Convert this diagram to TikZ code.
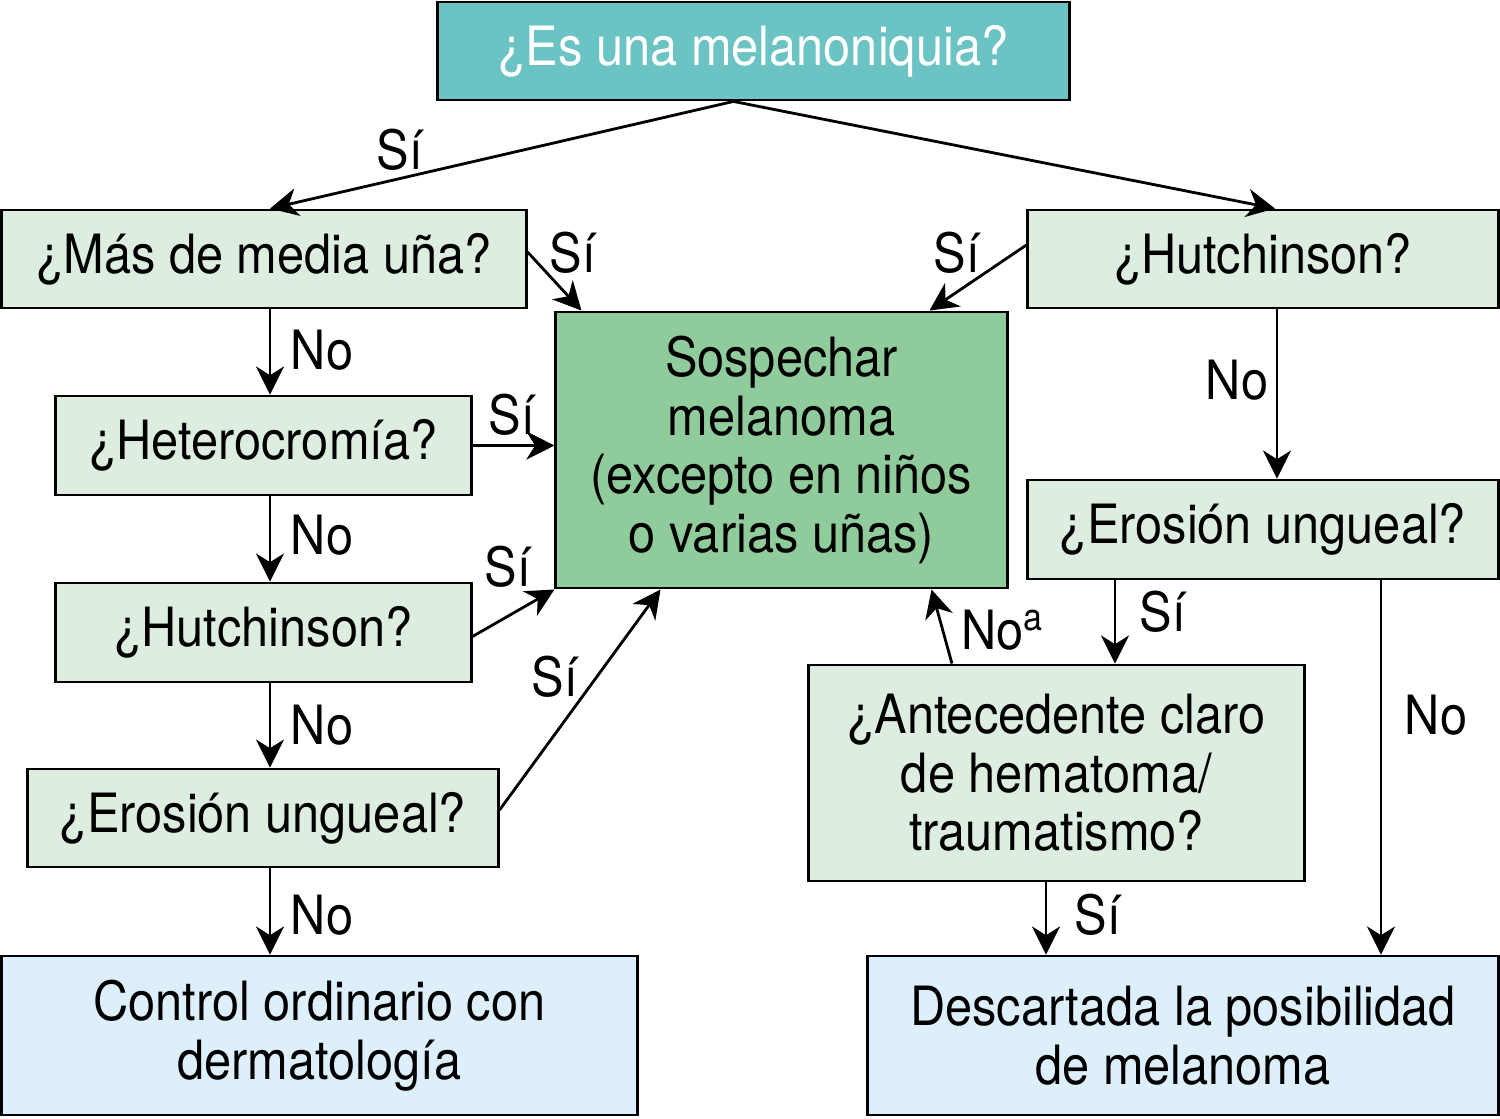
\documentclass[tikz,border=0pt]{standalone}
\usepackage{fontspec}
\setmainfont{TeX Gyre Heros}[FakeStretch=0.9]
\usetikzlibrary{arrows.meta,calc}
\definecolor{teal}{HTML}{6CC3C4}
\definecolor{lgreen}{HTML}{DDEEE0}
\definecolor{mgreen}{HTML}{8FCB9B}
\definecolor{lblue}{HTML}{DCEFFB}
\begin{document}
\begin{tikzpicture}[x=0.01cm,y=-0.01cm,
  every node/.style={font=\fontsize{15.4}{16.6}\selectfont},
  box/.style={draw=black,line width=0.8pt,align=center,inner sep=0pt},
  q/.style={box,fill=lgreen},
  res/.style={box,fill=lblue},
  lab/.style={inner sep=0pt},
  arr/.style={line width=0.8pt,-{Stealth[length=8pt,width=8pt,inset=2.5pt]}}]
\useasboundingbox (0,0) rectangle (1500,1118);
\node[box,fill=teal,text=white,minimum width=6.31cm,minimum height=0.98cm] (top) at (753.5,51) {¿Es una melanoniquia?};
\node[q,minimum width=5.24cm,minimum height=0.98cm] (mas) at (264,259) {¿Más de media uña?};
\node[q,minimum width=4.70cm,minimum height=0.98cm] (hutR) at (1263,259) {¿Hutchinson?};
\node[box,fill=mgreen,minimum width=4.51cm,minimum height=2.76cm] (sosp) at (781.5,450) {Sospechar\\melanoma\\(excepto en niños\\o varias uñas)};
\node[q,minimum width=4.15cm,minimum height=0.99cm] (het) at (263.5,445.5) {¿Heterocromía?};
\node[q,minimum width=4.15cm,minimum height=0.99cm] (hutL) at (263.5,632.5) {¿Hutchinson?};
\node[q,minimum width=4.70cm,minimum height=0.98cm] (eroL) at (263,818) {¿Erosión ungueal?};
\node[res,minimum width=6.35cm,minimum height=1.59cm] (ctrl) at (319.5,1035.5) {Control ordinario con\\dermatología};
\node[q,minimum width=4.70cm,minimum height=0.99cm] (eroR) at (1263,529.5) {¿Erosión ungueal?};
\node[q,minimum width=4.95cm,minimum height=2.16cm] (ante) at (1056.5,773) {¿Antecedente claro\\de hematoma/\\traumatismo?};
\node[res,minimum width=6.30cm,minimum height=1.59cm] (desc) at (1183,1035.5) {Descartada la posibilidad\\de melanoma};
\coordinate (cl) at (270,0);
\coordinate (cr) at (1277,0);
\coordinate (cs) at (1115,0);
\coordinate (cn) at (1381,0);
\coordinate (ca) at (1046,0);
\draw[arr] ([xshift=-0.2cm]top.south) -- ([xshift=0.06cm]mas.north);
\draw[arr] ([xshift=-0.2cm]top.south) -- ([xshift=0.12cm]hutR.north);
\draw[arr] ([yshift=0.07cm]mas.east) -- ([xshift=0.27cm]sosp.north west);
\draw[arr] ([yshift=0.14cm]hutR.west) -- ([xshift=-0.79cm]sosp.north east);
\draw[arr] (mas.south -| cl) -- (het.north -| cl);
\draw[arr] (het.east) -- (sosp.west |- het.east);
\draw[arr] (het.south -| cl) -- (hutL.north -| cl);
\draw[arr] ([yshift=-0.04cm]hutL.east) -- (sosp.south west);
\draw[arr] (hutL.south -| cl) -- (eroL.north -| cl);
\draw[arr] ([yshift=0.08cm]eroL.east) -- ([xshift=1.06cm]sosp.south west);
\draw[arr] (eroL.south -| cl) -- (ctrl.north -| cl);
\draw[arr] (hutR.south -| cr) -- (eroR.north -| cr);
\draw[arr] (eroR.south -| cs) -- (ante.north -| cs);
\draw[arr] (eroR.south -| cn) -- (desc.north -| cn);
\draw[arr] ([xshift=-1.045cm]ante.north) -- ([xshift=-0.77cm]sosp.south east);
\draw[arr] (ante.south -| ca) -- (desc.north -| ca);
\node[lab] (l1) at (400,150) {Sí};
\node[lab] (l2) at (573,253) {Sí};
\node[lab] (l3) at (957,253) {Sí};
\node[lab] (l4) at (322,350) {No};
\node[lab] (l5) at (512,415) {Sí};
\node[lab] (l6) at (322,535) {No};
\node[lab] (l7) at (508,567) {Sí};
\node[lab] (l8) at (322,725) {No};
\node[lab] (l9) at (555,677) {Sí};
\node[lab] (l10) at (322,915) {No};
\node[lab] (l11) at (1237,380) {No};
\node[lab] (l12) at (1163,612) {Sí};
\node[lab] (l13) at (1436,715) {No};
\node[lab] (l14) at (1003,630) {No\textsuperscript{a}};
\node[lab] (l15) at (1098,915) {Sí};
\end{tikzpicture}
\end{document}
